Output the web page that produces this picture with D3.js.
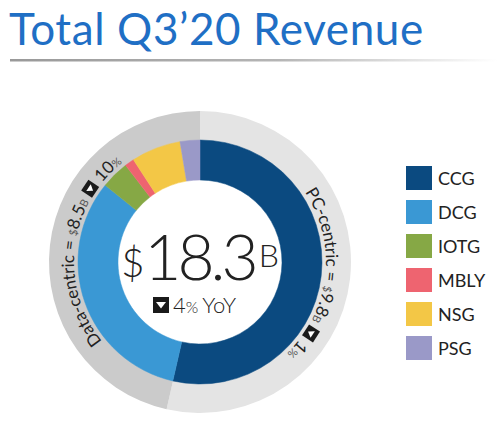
<!DOCTYPE html>
<html>
<head>
<meta charset="utf-8">
<script src="https://cdn.jsdelivr.net/npm/d3@7"></script>
<style>
  body { margin: 0; background: #fff; }
  text { font-family: Lato, "Noto Sans", sans-serif; }
</style>
</head>
<body>
<div id="chart"></div>
<script>
// Intel Q3'20 revenue by segment ($B)
const segments = ["CCG", "DCG", "IOTG", "MBLY", "NSG", "PSG"];
const revenue = [9.8, 5.9, 0.68, 0.23, 1.2, 0.48];
const segmentColors = ["#0b4a80", "#3a98d4", "#86a845", "#ee6470", "#f3c746", "#9a99c8"];

// outer ring groups
const groups = ["PC-centric", "Data-centric"];
const groupRevenue = [9.8, 8.5];
const groupChange = [1, 10];   // % decline YoY
const groupColors = ["#e4e4e4", "#cbcbcb"];

const totalRevenue = 18.3;
const totalChange = 4;

const width = 497;
const height = 425;
const cx = 200, cy = 262;
const ringOuter = 151, donutOuter = 122, donutInner = 82;
const textRadius = 126;

const svg = d3.select("#chart")
    .append("svg")
    .attr("width", width)
    .attr("height", height);

// Title + fading rule
const grad = svg.append("defs").append("linearGradient")
    .attr("id", "rule")
    .attr("x1", "0%").attr("x2", "100%");
grad.append("stop").attr("offset", "0%").attr("stop-color", "#999");
grad.append("stop").attr("offset", "55%").attr("stop-color", "#b5b5b5");
grad.append("stop").attr("offset", "100%").attr("stop-color", "#fff");

svg.append("text")
    .attr("x", 9)
    .attr("y", 45)
    .attr("fill", "#1f6fc5")
    .attr("letter-spacing", 0.6)
    .style("font-size", "44px")
    .text("Total Q3\u201920 Revenue");

svg.append("rect")
    .attr("x", 10).attr("y", 59)
    .attr("width", 487).attr("height", 2.5)
    .attr("fill", "url(#rule)");

const g = svg.append("g")
    .attr("transform", `translate(${cx}, ${cy})`);

const pie = d3.pie().sort(null).value(d => d);

// Outer grey ring
const ringArc = d3.arc().innerRadius(donutOuter - 2).outerRadius(ringOuter);
const groupArcs = pie(groupRevenue);
g.selectAll("path.ring")
    .data(groupArcs)
    .enter()
    .append("path")
    .attr("class", "ring")
    .attr("d", ringArc)
    .attr("fill", (d, i) => groupColors[i]);

// Segment donut
const arc = d3.arc().innerRadius(donutInner).outerRadius(donutOuter);
g.selectAll("path.seg")
    .data(pie(revenue))
    .enter()
    .append("path")
    .attr("class", "seg")
    .attr("d", arc)
    .attr("fill", (d, i) => segmentColors[i])
    .attr("stroke", (d, i) => segmentColors[i])
    .attr("stroke-width", 0.5);

// Circular path for the group labels, clockwise from 12 o'clock
const r = textRadius;
g.append("defs").append("path")
    .attr("id", "labelPath")
    .attr("d", `M0,${-r} A${r},${r} 0 1 1 0,${r} A${r},${r} 0 1 1 0,${-r}`);

const big = 17, small = 11, iconSize = 13, gap = 5;

groupArcs.forEach((a, i) => {
    const label = g.append("text").attr("fill", "#222");
    const tp = label.append("textPath").attr("href", "#labelPath");
    const head = groups[i] + " = ";
    const value = groupRevenue[i].toFixed(1);
    tp.append("tspan").style("font-size", big + "px").text(head);
    tp.append("tspan").style("font-size", small + "px").attr("fill", "#555").text("$");
    tp.append("tspan").style("font-size", big + "px").text(value);
    tp.append("tspan").style("font-size", small + "px").attr("fill", "#555").text("B");
    const change = String(groupChange[i]);
    tp.append("tspan").style("font-size", big + "px")
        .attr("dx", 2 * gap + iconSize).text(change);
    tp.append("tspan").style("font-size", small + "px").attr("fill", "#555").text("%");

    const nA = head.length + 1 + value.length + 1;
    const nB = change.length + 1;
    const node = label.node();
    const wA = node.getSubStringLength(0, nA);
    const wB = node.getSubStringLength(nA, nB);
    const total = wA + 2 * gap + iconSize + wB;
    const mid = (a.startAngle + a.endAngle) / 2 * r;
    const start = mid - total / 2;
    tp.attr("startOffset", start);

    const iconAngle = (start + wA + gap + iconSize / 2) / r * 180 / Math.PI;
    const icon = g.append("g")
        .attr("transform", `rotate(${iconAngle}) translate(0, ${-(r + 6)})`);
    icon.append("rect")
        .attr("x", -iconSize / 2).attr("y", -iconSize / 2)
        .attr("width", iconSize).attr("height", iconSize)
        .attr("fill", "#1a1a1a");
    icon.append("path")
        .attr("d", "M-4,-2 L4,-2 L0,3.5 Z")
        .attr("fill", "#fff");
});

// Centre total
const centre = g.append("text")
    .attr("text-anchor", "middle")
    .attr("y", 18)
    .attr("fill", "#222")
    .style("font-weight", 300);
centre.append("tspan").style("font-size", "40px").attr("dy", -3).text("$");
centre.append("tspan").style("font-size", "64px").attr("dy", 3).attr("letter-spacing", -4).text(totalRevenue.toFixed(1));
centre.append("tspan").style("font-size", "32px").attr("dy", -13).attr("dx", 4).text("B");

// YoY change
const yoy = g.append("g").attr("transform", "translate(-39, 43)");
yoy.append("rect")
    .attr("x", -8).attr("y", -8)
    .attr("width", 16).attr("height", 16)
    .attr("fill", "#1a1a1a");
yoy.append("path")
    .attr("d", "M-5,-3 L5,-3 L0,3.5 Z")
    .attr("fill", "#fff");
const yoyText = yoy.append("text")
    .attr("x", 12)
    .attr("y", 8)
    .attr("fill", "#222")
    .style("font-weight", 300);
yoyText.append("tspan").style("font-size", "22px").text(totalChange);
yoyText.append("tspan").style("font-size", "16px").text("%");
yoyText.append("tspan").style("font-size", "22px").attr("dx", 4).text("YoY");

// Legend
const legend = svg.append("g")
    .attr("transform", "translate(406, 166)");
const item = legend.selectAll("g")
    .data(segments)
    .enter()
    .append("g")
    .attr("transform", (d, i) => `translate(0, ${i * 34})`);
item.append("rect")
    .attr("width", 26)
    .attr("height", 24)
    .attr("fill", (d, i) => segmentColors[i]);
item.append("text")
    .attr("x", 32)
    .attr("y", 19)
    .attr("fill", "#222")
    .style("font-size", "18px")
    .text(d => d);
</script>
</body>
</html>
